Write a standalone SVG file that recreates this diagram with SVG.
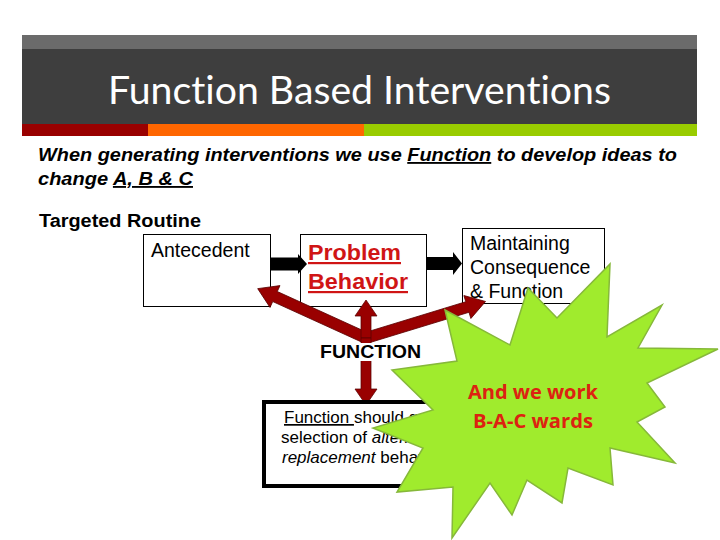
<svg xmlns="http://www.w3.org/2000/svg" width="720" height="540" viewBox="0 0 720 540">
<defs>
<style>
.box{fill:#fff;stroke:#000;stroke-width:1}
.txt{font-family:"Liberation Sans",Arial,sans-serif;fill:#000}
.red-arrow{fill:#990000;stroke:#5a0000;stroke-width:0.75}
.blk-arrow{fill:#000}
.burst{fill:#A0EB2D;stroke:#86B83A;stroke-width:1.5;stroke-linejoin:miter}
text{font-variant-ligatures:none;font-feature-settings:"liga" 0,"dlig" 0}
</style>
</defs>
<rect x="0" y="0" width="720" height="540" fill="#fff"/>
<g id="header">
<rect x="22" y="35" width="675" height="14" fill="#6b6b6b"/>
<rect x="22" y="49" width="675" height="75" fill="#3e3e3e"/>
<rect x="22" y="124" width="126" height="12" fill="#990000"/>
<rect x="148" y="124" width="216" height="12" fill="#ff6600"/>
<rect x="364" y="124" width="333" height="12" fill="#99cc00"/>
<text x="108" y="104" font-family="Lato,'Open Sans',sans-serif" font-size="38" fill="#fff" textLength="503" lengthAdjust="spacingAndGlyphs">Function Based Interventions</text>
</g>
<g id="intro" class="txt" font-weight="bold" font-style="italic" font-size="18.5">
<text x="38" y="161" textLength="639" lengthAdjust="spacingAndGlyphs">When generating interventions we use <tspan text-decoration="underline">Function</tspan> to develop ideas to</text>
<text x="38" y="185" textLength="155" lengthAdjust="spacingAndGlyphs">change <tspan text-decoration="underline">A, B &amp; C</tspan></text>
</g>
<text id="routine" class="txt" x="39" y="227" font-weight="bold" font-size="18" textLength="162" lengthAdjust="spacingAndGlyphs">Targeted Routine</text>
<g id="antecedent">
<rect class="box" x="143.5" y="234.5" width="127" height="72"/>
<text class="txt" x="151" y="257" font-size="19.5">Antecedent</text>
</g>
<g id="problem">
<rect class="box" x="300.5" y="234.5" width="126" height="72"/>
<g class="txt" font-weight="bold" font-size="22" style="fill:#d01515" text-decoration="underline">
<text x="308" y="260" textLength="93" lengthAdjust="spacingAndGlyphs">Problem</text>
<text x="308" y="289" textLength="100" lengthAdjust="spacingAndGlyphs">Behavior</text>
</g>
</g>
<g id="maintaining">
<rect class="box" x="462.5" y="228.5" width="142" height="75"/>
<g class="txt" font-size="19.5">
<text x="470" y="250">Maintaining</text>
<text x="470" y="274">Consequence</text>
<text x="470" y="298">&amp; Function</text>
</g>
</g>
<g id="connectors">
<polygon class="blk-arrow" points="270,257.5 298,257.5 298,254 307,264 298,274 298,270.5 270,270.5"/>
<polygon class="blk-arrow" points="427,257 453,257 453,252 462,263.5 453,275 453,270 427,270"/>
<g transform="translate(366,338)">
<polygon class="red-arrow" transform="rotate(204.5)" points="0,-5.5 100,-5.5 100,-12 119,0 100,12 100,5.5 0,5.5"/>
<polygon class="red-arrow" transform="rotate(-17)" points="0,-5.5 106,-5.5 106,-12 125,0 106,12 106,5.5 0,5.5"/>
<polygon class="red-arrow" transform="rotate(-90)" points="0,-5 22,-5 22,-11 38,0 22,11 22,5 0,5"/>
<polygon class="red-arrow" transform="rotate(90)" points="0,-5 51,-5 51,-11 67,0 51,11 51,5 0,5"/>
</g>
</g>
<g id="function">
<rect x="318" y="343" width="106" height="18" fill="#fff"/>
<text class="txt" x="320" y="358" font-weight="bold" font-size="19" textLength="101" lengthAdjust="spacingAndGlyphs">FUNCTION</text>
</g>
<g id="guide">
<rect x="264" y="402" width="204" height="84" fill="#fff" stroke="#000" stroke-width="4"/>
<g class="txt" font-size="17">
<text x="284" y="423"><tspan text-decoration="underline">Function </tspan>should guide</text>
<text x="281" y="443">selection of <tspan font-style="italic">alternative</tspan></text>
<text x="282" y="463"><tspan font-style="italic">replacement</tspan> behavior</text>
</g>
</g>
<g id="starburst">
<polygon class="burst" points="445,310 510,345 528,288 557,318 610,264 607,337 662,305 638,348 718,349 647,383 665,407 637,422 675,463 610,448 613,485 568,468 562,503 527,480 512,515 490,483 452,538 453,487 397,492 423,448 373,428 433,410 392,370 457,361"/>
<g font-family="'Open Sans',Lato,sans-serif" font-weight="bold" font-size="19" fill="#dd2211" text-anchor="middle">
<text x="533" y="399" textLength="130" lengthAdjust="spacingAndGlyphs">And we work</text>
<text x="533" y="428" textLength="120" lengthAdjust="spacingAndGlyphs">B-A-C wards</text>
</g>
</g>
</svg>
